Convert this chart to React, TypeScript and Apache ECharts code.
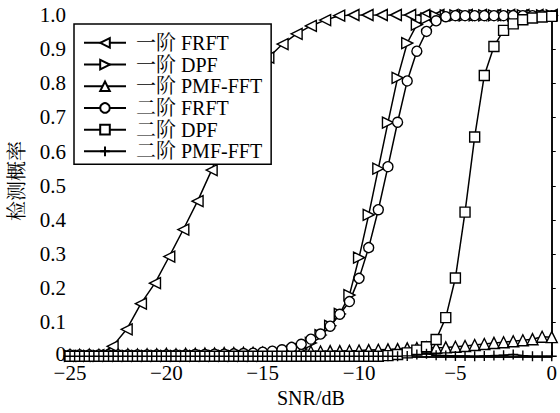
import React, { useEffect, useRef } from "react";
import * as echarts from "echarts";

// SNR grid (dB) for most curves, 0.5 dB step
const snrHalf = [
  -25, -24.5, -24, -23.5, -23, -22.5, -22, -21.5, -21, -20.5, -20, -19.5, -19, -18.5, -18, -17.5, -17,
  -16.5, -16, -15.5, -15, -14.5, -14, -13.5, -13, -12.5, -12, -11.5, -11, -10.5, -10, -9.5, -9, -8.5,
  -8, -7.5, -7, -6.5, -6, -5.5, -5, -4.5, -4, -3.5, -3, -2.5, -2, -1.5, -1, -0.5, 0,
];
// SNR grid for the first-order FRFT curve (35 points)
const snrFrft1 = [
  -25, -24.26, -23.53, -22.79, -22.06, -21.32, -20.59, -19.85, -19.12, -18.38, -17.65, -16.91, -16.18,
  -15.44, -14.71, -13.97, -13.24, -12.5, -11.76, -11.03, -10.29, -9.56, -8.82, -8.09, -7.35, -6.62,
  -5.88, -5.15, -4.41, -3.68, -2.94, -2.21, -1.47, -0.74, 0,
];

const frft1 = [
  0.002, 0.002, 0.004, 0.03, 0.08, 0.155, 0.215, 0.293, 0.372, 0.455, 0.546, 0.65, 0.745, 0.82, 0.875,
  0.915, 0.945, 0.968, 0.985, 0.998, 1, 1, 1, 1, 1, 1, 1, 1, 1, 1, 1, 1, 1, 1, 1,
];
const dpf1 = [
  0.002, 0.002, 0.002, 0.002, 0.002, 0.002, 0.002, 0.002, 0.002, 0.002, 0.002, 0.002, 0.002, 0.002,
  0.002, 0.002, 0.002, 0.002, 0.002, 0.002, 0.002, 0.004, 0.006, 0.012, 0.022, 0.04, 0.063, 0.09,
  0.125, 0.18, 0.29, 0.415, 0.55, 0.685, 0.816, 0.918, 0.972, 0.99, 0.997, 0.999, 0.999, 0.999, 0.999,
  0.999, 0.999, 0.999, 0.999, 0.999, 0.999, 0.999, 0.999,
];
const pmf1 = [
  0.005, 0.005, 0.006, 0.005, 0.006, 0.006, 0.007, 0.006, 0.007, 0.007, 0.008, 0.007, 0.008, 0.008,
  0.009, 0.009, 0.01, 0.01, 0.011, 0.011, 0.012, 0.012, 0.013, 0.013, 0.014, 0.015, 0.015, 0.016,
  0.016, 0.017, 0.018, 0.019, 0.02, 0.021, 0.022, 0.024, 0.025, 0.027, 0.026, 0.027, 0.029, 0.031,
  0.034, 0.037, 0.04, 0.042, 0.045, 0.048, 0.051, 0.058, 0.057,
];
const frft2 = [
  0.005, 0.005, 0.005, 0.005, 0.005, 0.005, 0.005, 0.005, 0.005, 0.005, 0.005, 0.005, 0.005, 0.006,
  0.006, 0.007, 0.007, 0.008, 0.009, 0.01, 0.013, 0.016, 0.02, 0.027, 0.036, 0.051, 0.066, 0.089,
  0.124, 0.161, 0.229, 0.319, 0.43, 0.556, 0.686, 0.807, 0.894, 0.952, 0.983, 0.995, 0.998, 0.998,
  0.998, 0.998, 0.998, 0.998, 0.998, 0.998, 0.998, 0.998, 0.998,
];
const dpf2 = [
  0.001, 0.001, 0.001, 0.001, 0.001, 0.001, 0.001, 0.001, 0.001, 0.001, 0.001, 0.001, 0.001, 0.001,
  0.001, 0.001, 0.001, 0.001, 0.001, 0.001, 0.001, 0.001, 0.001, 0.001, 0.001, 0.001, 0.001, 0.001,
  0.001, 0.001, 0.001, 0.001, 0.001, 0.003, 0.006, 0.011, 0.019, 0.029, 0.05, 0.114, 0.23, 0.423,
  0.643, 0.823, 0.908, 0.955, 0.974, 0.986, 0.991, 0.994, 0.996,
];
const pmf2 = [
  0.001, 0.001, 0.001, 0.001, 0.001, 0.001, 0.001, 0.001, 0.001, 0.001, 0.001, 0.001, 0.001, 0.001,
  0.001, 0.001, 0.001, 0.001, 0.001, 0.001, 0.001, 0.001, 0.001, 0.001, 0.001, 0.001, 0.001, 0.001,
  0.001, 0.001, 0.001, 0.001, 0.001, 0.001, 0.001, 0.002, 0.006, 0.008, 0.004, 0.003, 0.002, 0.002,
  0.001, 0.002, 0.003, 0.004, 0.006, 0.003, 0.001, 0.001, 0.001,
];

const seriesNames = ["一阶 FRFT", "一阶 DPF", "一阶 PMF-FFT", "二阶 FRFT", "二阶 DPF", "二阶 PMF-FFT"];
const xTicks = { min: -25, max: 0, interval: 5 };
const yTicks = { min: 0, max: 1, interval: 0.1 };

const FONT = "'Liberation Serif', 'Times New Roman', 'Noto Serif CJK SC', 'Noto Sans CJK SC', serif";

const pairs = (xs: number[], ys: number[]) => xs.map((x, i) => [x, ys[i]]);

export default function App() {
  const ref = useRef<HTMLDivElement>(null);
  useEffect(() => {
    if (!ref.current) return;
    const chart = echarts.init(ref.current, undefined, { renderer: "svg" });
    const mk = (
      name: string,
      data: number[][],
      symbol: string,
      size: number,
      rotate = 0
    ) => ({
      name,
      type: "line",
      data,
      symbol,
      symbolSize: size,
      symbolRotate: rotate,
      showSymbol: true,
      showAllSymbol: true,
      lineStyle: { color: "#000", width: 1.5 },
      itemStyle: { color: "#fff", borderColor: "#000", borderWidth: 1.4 },
      emphasis: { disabled: true },
      z: 2,
    });
    const plus = "path://M5,0L5,10M0,5L10,5";
    chart.setOption({
      animation: false,
      backgroundColor: "#fff",
      textStyle: { fontFamily: FONT, color: "#000" },
      grid: { left: 70, right: 4, top: 15, bottom: 53, containLabel: false },
      legend: {
        orient: "vertical",
        left: 74,
        top: 24,
        itemWidth: 42,
        itemHeight: 12,
        itemGap: 0,
        padding: [8, 9, 2, 9],
        borderColor: "#000",
        borderWidth: 1.5,
        backgroundColor: "#fff",
        borderRadius: 0,
        textStyle: { fontFamily: FONT, fontSize: 20, color: "#000", lineHeight: 21.7, padding: [0, 0, 0, 5] },
        data: seriesNames,
        z: 10,
      },
      xAxis: [
        {
          type: "value",
          min: xTicks.min,
          max: xTicks.max,
          interval: xTicks.interval,
          name: "SNR/dB",
          nameLocation: "middle",
          nameGap: 24,
          nameTextStyle: { fontFamily: FONT, fontSize: 20, color: "#000" },
          axisLine: { lineStyle: { color: "#000", width: 1.5 } },
          axisTick: { inside: true, length: 4, lineStyle: { color: "#000", width: 1 } },
          axisLabel: {
            fontFamily: FONT,
            fontSize: 21,
            lineHeight: 16,
            color: "#000",
            margin: 8,
            formatter: (v: number) => String(v).replace("-", "\u2212"),
          },
          splitLine: { show: false },
        },
        {
          type: "value",
          position: "top",
          min: xTicks.min,
          max: xTicks.max,
          interval: xTicks.interval,
          axisLine: { lineStyle: { color: "#000", width: 1.5 } },
          axisTick: { show: false },
          axisLabel: { show: false },
          splitLine: { show: false },
        },
      ],
      yAxis: [
        {
          type: "value",
          min: yTicks.min,
          max: yTicks.max,
          interval: yTicks.interval,
          axisLine: { show: true, lineStyle: { color: "#000", width: 1.5 } },
          axisTick: { show: true, inside: true, length: 4, lineStyle: { color: "#000", width: 1 } },
          axisLabel: {
            fontFamily: FONT,
            fontSize: 21,
            lineHeight: 14,
            color: "#000",
            margin: 4,
            formatter: (v: number) => (v === 0 ? "{z|0}" : v.toFixed(1)),
            rich: {
              z: { fontFamily: FONT, fontSize: 21, lineHeight: 14, color: "#000", padding: [0, 0, 6, 0] },
            },
          },
          splitLine: { show: false },
        },
        {
          type: "value",
          position: "right",
          min: yTicks.min,
          max: yTicks.max,
          interval: yTicks.interval,
          axisLine: { show: true, lineStyle: { color: "#000", width: 1.5 } },
          axisTick: { show: false },
          axisLabel: { show: false },
          splitLine: { show: false },
        },
      ],
      graphic: [
        {
          type: "text",
          x: 17,
          y: 181,
          rotation: Math.PI / 2,
          style: {
            text: "检测概率",
            fontFamily: FONT,
            fontSize: 20,
            fill: "#000",
            align: "center",
            verticalAlign: "middle",
          },
        },
      ],
      series: [
        mk(seriesNames[0], pairs(snrFrft1, frft1), "triangle", 11, 90),
        mk(seriesNames[1], pairs(snrHalf, dpf1), "triangle", 11, -90),
        mk(seriesNames[2], pairs(snrHalf, pmf1), "triangle", 11, 0),
        mk(seriesNames[3], pairs(snrHalf, frft2), "circle", 10),
        mk(seriesNames[4], pairs(snrHalf, dpf2), "rect", 10),
        mk(seriesNames[5], pairs(snrHalf, pmf2), plus, 10),
      ],
    });
    return () => chart.dispose();
  }, []);
  return (
    <div
      ref={ref}
      style={{ position: "fixed", left: 0, top: 0, width: 560, height: 413, background: "#fff" }}
    />
  );
}
